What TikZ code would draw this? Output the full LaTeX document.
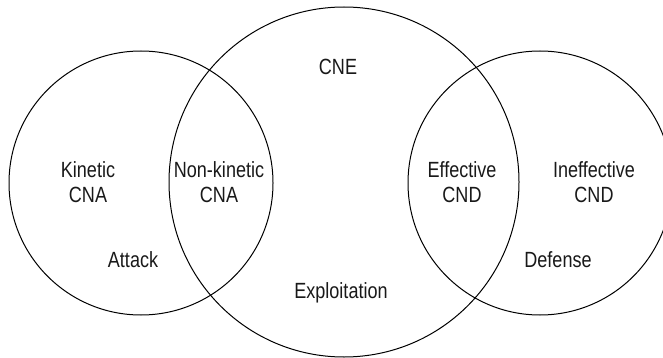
\documentclass[tikz,border=0pt]{standalone}
\usepackage{fontspec}
\setmainfont{Liberation Sans}[FakeStretch=0.82]
\usepackage{tikz}

\tikzset{
  ring/.style={circle, draw, line width=1pt, inner sep=0pt},
  lbl/.style={align=center, text=black!90, font=\fontsize{22}{25}\selectfont}
}

\begin{document}
\begin{tikzpicture}[x=1pt,y=-1pt]
\useasboundingbox (0,0) rectangle (663,358);
\clip (0,0) rectangle (663,358);

% Three overlapping circles
\node[ring, minimum size=264pt] (attack) at (141,183) {};
\node[ring, minimum size=350pt] (exploit) at (344,182) {};
\node[ring, minimum size=264pt] (defense) at (540,183) {};

% Region labels
\node[lbl] (kcna) at (88,182) {Kinetic\\CNA};
\node[lbl] (nkcna) at (219,182) {Non-kinetic\\CNA};
\node[lbl] (cne) at (338,67) {CNE};
\node[lbl] (ecnd) at (462,182) {Effective\\CND};
\node[lbl] (icnd) at (594,182) {Ineffective\\CND};

% Circle names
\node[lbl] (attacklbl) at (133,260) {Attack};
\node[lbl] (exploitlbl) at (341,293) {Exploitation};
\node[lbl] (defenselbl) at (558,260) {Defense};
\end{tikzpicture}
\end{document}
